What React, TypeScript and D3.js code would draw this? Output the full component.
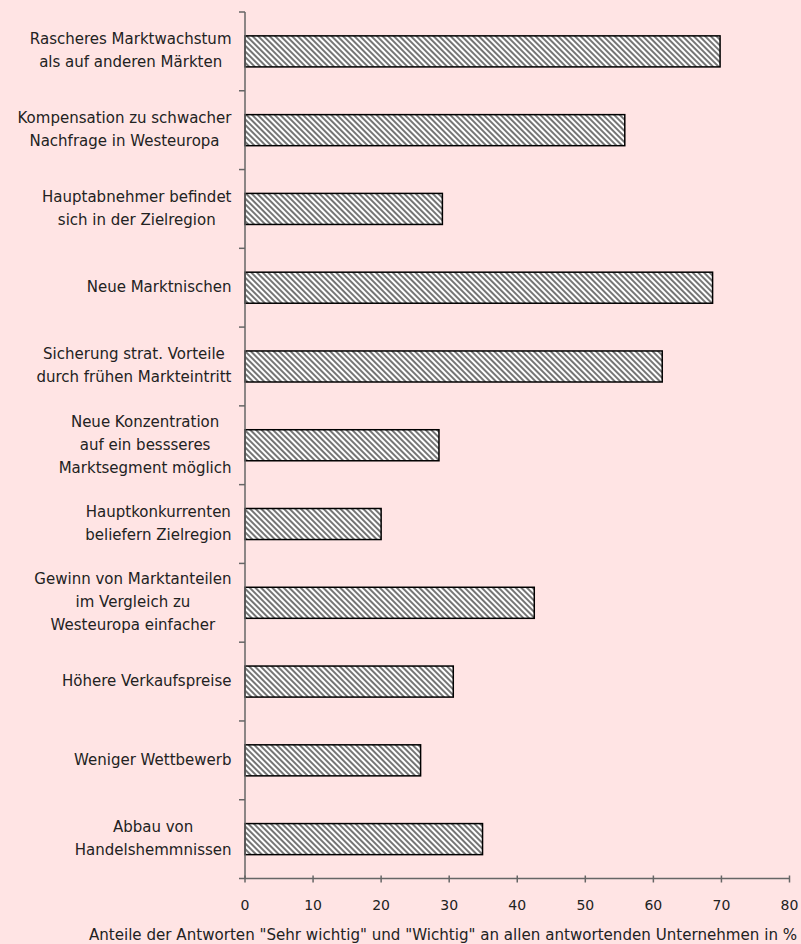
import React, { useEffect } from "react";
import * as d3 from "d3";

const categories: string[][] = [
  ["Rascheres Marktwachstum", "als auf anderen Märkten"],
  ["Kompensation zu schwacher", "Nachfrage in Westeuropa"],
  ["Hauptabnehmer befindet", "sich in der Zielregion"],
  ["Neue Marktnischen"],
  ["Sicherung strat. Vorteile", "durch frühen Markteintritt"],
  ["Neue Konzentration", "auf ein bessseres", "Marktsegment möglich"],
  ["Hauptkonkurrenten", "beliefern Zielregion"],
  ["Gewinn von Marktanteilen", "im Vergleich zu", "Westeuropa einfacher"],
  ["Höhere Verkaufspreise"],
  ["Weniger Wettbewerb"],
  ["Abbau von", "Handelshemmnissen"],
];
const values: number[] = [69.8, 55.8, 29.0, 68.7, 61.3, 28.5, 20.0, 42.5, 30.6, 25.8, 34.9];
const xTicks: number[] = [0, 10, 20, 30, 40, 50, 60, 70, 80];
const xTitle = 'Anteile der Antworten "Sehr wichtig" und "Wichtig" an allen antwortenden Unternehmen in %';

const W = 801;
const H = 944;
const FONT = "'DejaVu Sans', sans-serif";
const LABEL_SIZE = 15;

let ctx: CanvasRenderingContext2D | null = null;
function measure(text: string, size: number): number {
  if (!ctx) {
    const c = document.createElement("canvas");
    ctx = c.getContext("2d");
  }
  if (!ctx) return text.length * size * 0.6;
  ctx.font = `${size}px 'DejaVu Sans'`;
  return ctx.measureText(text).width;
}

export default function App() {
  useEffect(() => {
    document.body.style.margin = "0";
    document.body.style.background = "#FFE4E4";
  }, []);

  const x = d3.scaleLinear().domain([0, 80]).range([245, 789.5]);
  const ids = categories.map((_, i) => String(i));
  const y = d3.scaleBand<string>().domain(ids).range([12, 878.5]).paddingInner(0.606).paddingOuter(0.303);
  const step = y.step();
  const top = 12;
  const bottom = 878.5;
  const labelRight = 231.5;
  const lineH = 23;

  const boundaries = d3.range(categories.length + 1).map((i) => top + i * step);

  return (
    <svg width={W} height={H} style={{ position: "absolute", left: 0, top: 0, display: "block" }} fontFamily={FONT}>
      <defs>
        <pattern id="hatch" patternUnits="userSpaceOnUse" width={4} height={4} patternTransform="rotate(-45)">
          <rect x={0} y={0} width={4} height={4} fill="#ffffff" />
          <line x1={1} y1={-1} x2={1} y2={5} stroke="#333" strokeWidth={1.35} />
        </pattern>
      </defs>
      <rect x={0} y={0} width={W} height={H} fill="#FFE4E4" />

      {values.map((v, i) => (
        <rect
          key={i}
          x={x(0)}
          y={y(String(i))}
          width={x(v) - x(0)}
          height={y.bandwidth()}
          fill="url(#hatch)"
          stroke="#000"
          strokeWidth={1.5}
        />
      ))}

      {/* y axis */}
      <line x1={x(0)} x2={x(0)} y1={top} y2={bottom} stroke="#666" strokeWidth={1.5} />
      {boundaries.map((b, i) => (
        <line key={i} x1={x(0) - 6} x2={x(0)} y1={b} y2={b} stroke="#666" strokeWidth={1.5} />
      ))}

      {/* x axis */}
      <line x1={x(0)} x2={x(80)} y1={bottom} y2={bottom} stroke="#666" strokeWidth={1.5} />
      {xTicks.map((t) => (
        <g key={t}>
          <line x1={x(t)} x2={x(t)} y1={bottom - 3} y2={bottom + 4} stroke="#666" strokeWidth={1.5} />
          <text x={x(t)} y={910} textAnchor="middle" fontSize={14} fill="#222">
            {t}
          </text>
        </g>
      ))}

      <text x={443} y={940} textAnchor="middle" fontSize={15.1} fill="#222">
        {xTitle}
      </text>

      {categories.map((lines, i) => {
        const maxW = Math.max(...lines.map((l) => measure(l, LABEL_SIZE)));
        const cx = labelRight - maxW / 2;
        const center = (y(String(i)) as number) + y.bandwidth() / 2;
        const firstBase = center + 4.5 - ((lines.length - 1) * lineH) / 2;
        return (
          <text key={i} textAnchor="middle" fontSize={LABEL_SIZE} fill="#222">
            {lines.map((l, j) => (
              <tspan key={j} x={cx} y={firstBase + j * lineH}>
                {l}
              </tspan>
            ))}
          </text>
        );
      })}
    </svg>
  );
}
